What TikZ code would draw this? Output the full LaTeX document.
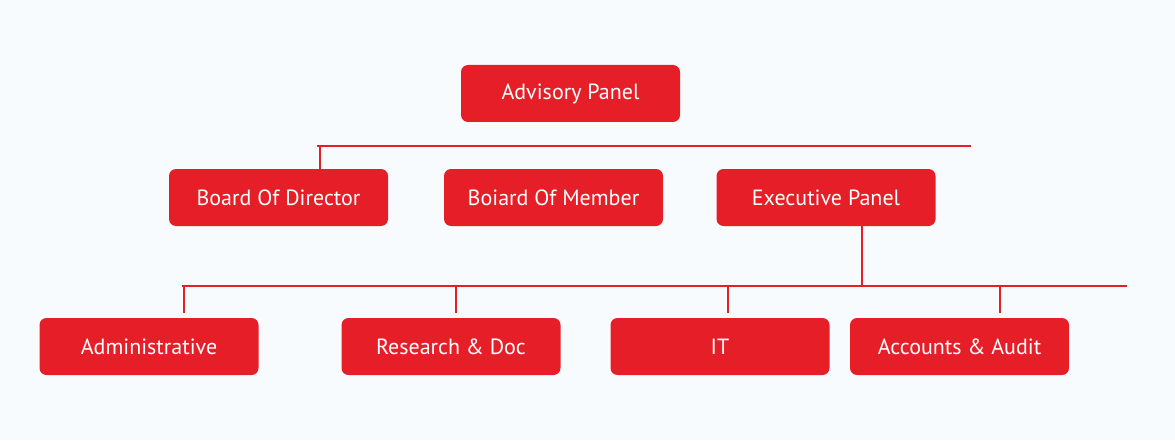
\documentclass[tikz,border=0pt]{standalone}
\usepackage{fontspec}
\setmainfont{PT Sans}
\definecolor{boxred}{HTML}{E51E27}
\definecolor{paper}{HTML}{F7FBFE}
\begin{document}
\begin{tikzpicture}[x=1pt,y=1pt,
  unit/.style={fill=boxred, rounded corners=7pt, minimum width=219pt,
    minimum height=57pt, inner sep=0pt, text=white,
    font=\fontsize{22}{26}\selectfont},
  link/.style={draw=boxred, line width=1.7pt}]
  % canvas
  \fill[paper] (0,0) rectangle (1175,440);
  \useasboundingbox (0,0) rectangle (1175,440);

  % top level
  \node[unit] (adv) at (570.5,346.5) {Advisory Panel};

  % second level
  \node[unit] (bod) at (278.5,242.5) {Board Of Director};
  \node[unit] (bom) at (553.5,242.5) {Boiard Of Member};
  \node[unit] (exe) at (826,242.5) {Executive Panel};

  % departments
  \node[unit] (adm) at (149,93.5) {Administrative};
  \node[unit] (res) at (451,93.5) {Research \& Doc};
  \node[unit] (it)  at (720,93.5) {IT};
  \node[unit] (acc) at (959.5,93.5) {Accounts \& Audit};

  % upper bus
  \coordinate (busAL) at (317,294);
  \coordinate (busAR) at (971,294);
  \coordinate (dropA) at (320,294);
  \draw[link] (busAL) -- (busAR);
  \draw[link] (dropA) -- (dropA |- bod.north);

  % lower bus
  \coordinate (busBL) at (182,154);
  \coordinate (busBR) at (1127,154);
  \draw[link] (busBL) -- (busBR);
  \draw[link] (exe.south -| 862,0) -- (862,154);
  \foreach \tx/\nm in {184/tA,456/tB,728/tC,1000/tD}{
    \coordinate (\nm) at (\tx,127);
    \draw[link] (\tx,154) -- (\nm);
  }
\end{tikzpicture}
\end{document}
